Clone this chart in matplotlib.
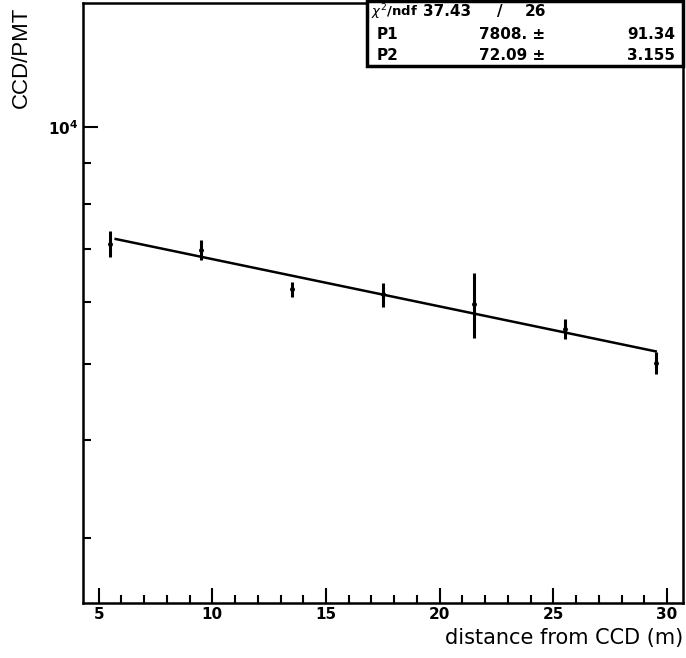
import numpy as np
from matplotlib import pyplot as plt
from matplotlib import ticker
from matplotlib.patches import Rectangle

# CCD/PMT ratio vs distance from the CCD
dist = [5.5, 9.5, 13.5, 17.5, 21.5, 25.5, 29.5]
ratio = [7100, 6990, 6220, 6130, 5960, 5540, 5010]
ratio_err = [270, 205, 130, 215, 565, 170, 160]

# exponential fit  p1 * exp(-x / p2)
chi2, ndf = 37.43, 26
p1, p1_err = 7808., 91.34
p2, p2_err = 72.09, 3.155
fit_range = (5.75, 29.5)

fig = plt.figure(figsize=(6.86, 6.58), dpi=100, facecolor='white')
ax = fig.add_axes([0.1206, 0.0836, 0.875, 0.9118])

ax.errorbar(dist, ratio, yerr=ratio_err, fmt='o', color='black',
            markersize=2.5, elinewidth=2.2, capsize=0, zorder=3)

xf = np.linspace(fit_range[0], fit_range[1], 200)
ax.plot(xf, p1 * np.exp(-xf / p2), color='black', lw=1.8)

ax.set_yscale('log')
ax.set_xlim(4.3, 30.7)
ax.set_ylim(2480, 14400)

ax.xaxis.set_major_locator(ticker.MultipleLocator(5))
ax.xaxis.set_minor_locator(ticker.MultipleLocator(1))
ax.yaxis.set_major_locator(ticker.FixedLocator([1e4]))
ax.yaxis.set_major_formatter(ticker.FixedFormatter([r'$\mathbf{10^4}$']))
ax.yaxis.set_minor_locator(ticker.FixedLocator([3000, 4000, 5000, 6000, 7000, 8000, 9000]))
ax.yaxis.set_minor_formatter(ticker.NullFormatter())

ax.tick_params(which='both', direction='in', top=False, right=False, width=1.5)
ax.tick_params(which='major', length=11, labelsize=11)
ax.tick_params(which='minor', length=6)
ax.tick_params(axis='x', pad=3)
for lab in ax.get_xticklabels():
    lab.set_fontweight('bold')
for sp in ax.spines.values():
    sp.set_linewidth(1.8)

ax.set_xlabel('distance from CCD (m)', fontsize=15, family='DejaVu Sans', loc='right', labelpad=4)
fig.text(21 / 686, 1 - 7 / 658, 'CCD/PMT', fontsize=16, family='Liberation Sans',
         rotation=90, ha='center', va='top')

# stats box
fig.patches.append(Rectangle((0.535, 0.8997), 0.4606, 0.0995, transform=fig.transFigure,
                             facecolor='white', edgecolor='black', lw=2.5, zorder=5))
kw = dict(fontsize=11, fontweight='bold', va='center', zorder=6)
rows = [0.9818, 0.9483, 0.9164]
fig.text(0.5410, rows[0], r'$\chi^2$/ndf', fontsize=9.5, fontweight='bold', va='center', zorder=6)
fig.text(0.6166, rows[0], f'{chi2:.2f}', **kw)
fig.text(0.729, rows[0], '/', ha='center', **kw)
fig.text(0.797, rows[0], f'{ndf}', ha='right', **kw)
fig.text(0.5496, rows[1], 'P1', **kw)
fig.text(0.7945, rows[1], f'{p1:.0f}. ±', ha='right', **kw)
fig.text(0.984, rows[1], f'{p1_err:.2f}', ha='right', **kw)
fig.text(0.5496, rows[2], 'P2', **kw)
fig.text(0.7945, rows[2], f'{p2:.2f} ±', ha='right', **kw)
fig.text(0.984, rows[2], f'{p2_err:.3f}', ha='right', **kw)

fig.savefig('out.png', dpi=100)
